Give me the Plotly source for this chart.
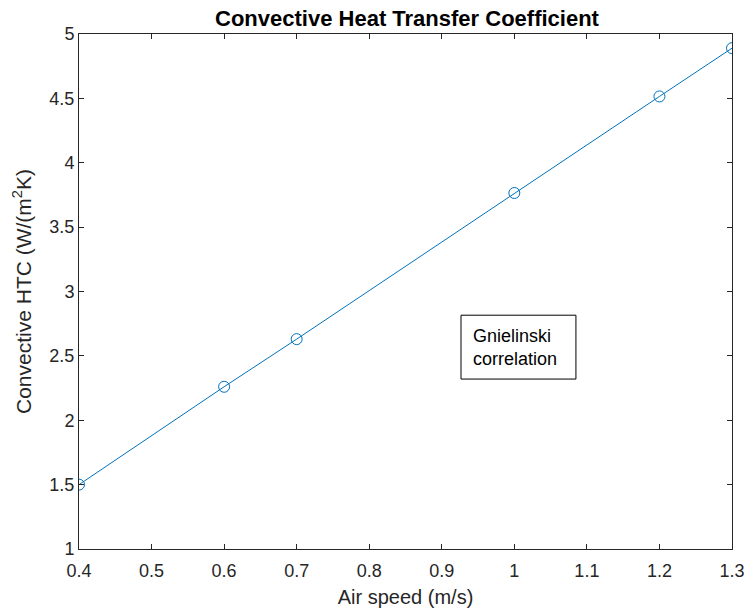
import plotly.graph_objects as go

# Air speed (m/s) and Gnielinski convective heat transfer coefficient (W/(m^2 K))
air_speed = [0.4, 0.6, 0.7, 1.0, 1.2, 1.3]
htc = [1.50, 2.26, 2.63, 3.765, 4.515, 4.89]

x_ticks = [0.4, 0.5, 0.6, 0.7, 0.8, 0.9, 1.0, 1.1, 1.2, 1.3]
y_ticks = [1, 1.5, 2, 2.5, 3, 3.5, 4, 4.5, 5]

axis_color = "#262626"
font_family = "Liberation Sans, Arial, sans-serif"

fig = go.Figure()
fig.add_trace(go.Scatter(
    x=air_speed, y=htc,
    mode="lines+markers",
    line=dict(color="#0072BD", width=1),
    marker=dict(symbol="circle-open", size=11, color="#0072BD", line=dict(width=1)),
    showlegend=False,
))

axis_common = dict(
    showline=True, linecolor=axis_color, linewidth=1, mirror="allticks",
    ticks="inside", ticklen=5, tickwidth=1, tickcolor=axis_color,
    showgrid=False, zeroline=False, automargin=False,
    tickfont=dict(family=font_family, size=18, color=axis_color),
)

fig.update_xaxes(
    range=[0.4, 1.3], tickvals=x_ticks, ticktext=[f"{v:g}" for v in x_ticks],
    ticklabelstandoff=5,
    title=dict(text="Air speed (m/s)", font=dict(family=font_family, size=20, color=axis_color), standoff=10),
    **axis_common,
)
fig.update_yaxes(
    range=[1, 5], tickvals=y_ticks, ticktext=[f"{v:g}" for v in y_ticks],
    title=dict(text="Convective HTC (W/(m<sup>2</sup>K)", font=dict(family=font_family, size=21, color=axis_color), standoff=12),
    **axis_common,
)

# Text box with the correlation name
fig.add_shape(type="rect", xref="paper", yref="paper",
              x0=0.585, x1=0.761, y0=0.330, y1=0.454,
              line=dict(color="black", width=1), fillcolor="white", layer="above")
fig.add_annotation(
    xref="paper", yref="paper", x=0.600, y=0.392, xanchor="left", yanchor="middle",
    text="Gnielinski<br>correlation", align="left", showarrow=False,
    font=dict(family=font_family, size=18, color="black"),
)

fig.update_layout(
    width=746, height=615,
    margin=dict(l=79, r=14, t=34, b=66),
    paper_bgcolor="white", plot_bgcolor="white",
    title=dict(text="<b>Convective Heat Transfer Coefficient</b>",
               x=407 / 746, xanchor="center", y=1 - 18 / 615, yanchor="middle",
               font=dict(family=font_family, size=22, color="black")),
)

fig.write_html("out.html")
